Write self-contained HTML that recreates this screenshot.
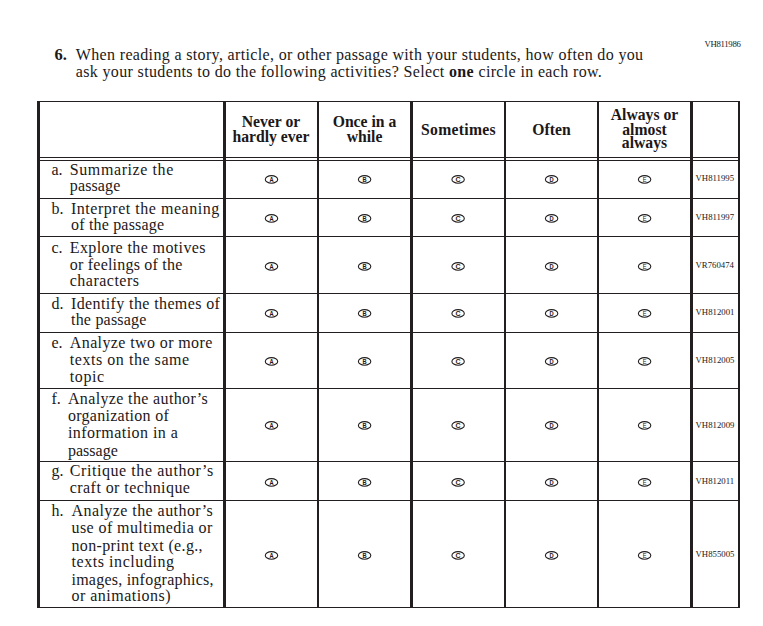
<!DOCTYPE html>
<html><head><meta charset="utf-8"><title>Question 6</title>
<style>
html,body{margin:0;padding:0;background:#fff;}
body{width:763px;height:626px;position:relative;overflow:hidden;}
</style></head><body>
<div style="position:absolute;top:46.58px;font-family:'Liberation Serif', serif;font-size:16.5px;line-height:16.5px;font-weight:400;color:#1c1819;white-space:pre;left:54.5px;"><b>6.</b></div>
<div style="position:absolute;top:47.00px;font-family:'Liberation Serif', serif;font-size:16px;line-height:16px;font-weight:400;color:#1c1819;white-space:pre;letter-spacing:0.343px;left:75.8px;">When reading a story, article, or other passage with your students, how often do you</div>
<div style="position:absolute;top:64.30px;font-family:'Liberation Serif', serif;font-size:16px;line-height:16px;font-weight:400;color:#1c1819;white-space:pre;letter-spacing:0.35px;left:75.8px;">ask your students to do the following activities? Select <b>one</b> circle in each row.</div>
<div style="position:absolute;top:40.17px;font-family:'Liberation Serif', serif;font-size:8.75px;line-height:8.75px;font-weight:400;color:#1c1819;white-space:pre;letter-spacing:-0.3px;left:704.4px;">VH811986</div>
<div style="position:absolute;left:37px;top:101px;width:703px;height:1px;background:#231f20"></div>
<div style="position:absolute;left:37px;top:157px;width:703px;height:1px;background:#231f20"></div>
<div style="position:absolute;left:37px;top:160px;width:703px;height:1px;background:#231f20"></div>
<div style="position:absolute;left:37px;top:198px;width:703px;height:1px;background:#231f20"></div>
<div style="position:absolute;left:37px;top:236px;width:703px;height:1px;background:#231f20"></div>
<div style="position:absolute;left:37px;top:293px;width:703px;height:1px;background:#231f20"></div>
<div style="position:absolute;left:37px;top:332px;width:703px;height:1px;background:#231f20"></div>
<div style="position:absolute;left:37px;top:388px;width:703px;height:1px;background:#231f20"></div>
<div style="position:absolute;left:37px;top:461px;width:703px;height:1px;background:#231f20"></div>
<div style="position:absolute;left:37px;top:500px;width:703px;height:1px;background:#231f20"></div>
<div style="position:absolute;left:37px;top:607px;width:703px;height:1px;background:#231f20"></div>
<div style="position:absolute;left:37px;top:101px;width:3px;height:507px;background:#231f20"></div>
<div style="position:absolute;left:223px;top:101px;width:3px;height:507px;background:#231f20"></div>
<div style="position:absolute;left:317px;top:101px;width:2px;height:507px;background:#231f20"></div>
<div style="position:absolute;left:410px;top:101px;width:3px;height:507px;background:#231f20"></div>
<div style="position:absolute;left:504px;top:101px;width:2px;height:507px;background:#231f20"></div>
<div style="position:absolute;left:597px;top:101px;width:2px;height:507px;background:#231f20"></div>
<div style="position:absolute;left:690px;top:101px;width:3px;height:507px;background:#231f20"></div>
<div style="position:absolute;left:738px;top:101px;width:2px;height:507px;background:#231f20"></div>
<div style="position:absolute;top:114.15px;font-family:'Liberation Serif', serif;font-size:15.7px;line-height:15.7px;font-weight:700;color:#1c1819;white-space:pre;left:225px;width:92px;text-align:center;">Never or</div>
<div style="position:absolute;top:129.05px;font-family:'Liberation Serif', serif;font-size:15.7px;line-height:15.7px;font-weight:700;color:#1c1819;white-space:pre;left:225px;width:92px;text-align:center;">hardly ever</div>
<div style="position:absolute;top:114.15px;font-family:'Liberation Serif', serif;font-size:15.7px;line-height:15.7px;font-weight:700;color:#1c1819;white-space:pre;left:319px;width:91px;text-align:center;">Once in a</div>
<div style="position:absolute;top:129.05px;font-family:'Liberation Serif', serif;font-size:15.7px;line-height:15.7px;font-weight:700;color:#1c1819;white-space:pre;left:319px;width:91px;text-align:center;">while</div>
<div style="position:absolute;top:122.05px;font-family:'Liberation Serif', serif;font-size:15.7px;line-height:15.7px;font-weight:700;color:#1c1819;white-space:pre;letter-spacing:0.3px;left:413px;width:91px;text-align:center;">Sometimes</div>
<div style="position:absolute;top:122.05px;font-family:'Liberation Serif', serif;font-size:15.7px;line-height:15.7px;font-weight:700;color:#1c1819;white-space:pre;left:506px;width:91px;text-align:center;">Often</div>
<div style="position:absolute;top:107.25px;font-family:'Liberation Serif', serif;font-size:15.7px;line-height:15.7px;font-weight:700;color:#1c1819;white-space:pre;left:599px;width:91px;text-align:center;">Always or</div>
<div style="position:absolute;top:121.65px;font-family:'Liberation Serif', serif;font-size:15.7px;line-height:15.7px;font-weight:700;color:#1c1819;white-space:pre;left:599px;width:91px;text-align:center;">almost</div>
<div style="position:absolute;top:134.95px;font-family:'Liberation Serif', serif;font-size:15.7px;line-height:15.7px;font-weight:700;color:#1c1819;white-space:pre;left:599px;width:91px;text-align:center;">always</div>
<div style="position:absolute;top:161.60px;font-family:'Liberation Serif', serif;font-size:16px;line-height:16px;font-weight:400;color:#1c1819;white-space:pre;left:51.4px;">a.</div>
<div style="position:absolute;top:161.60px;font-family:'Liberation Serif', serif;font-size:16px;line-height:16px;font-weight:400;color:#1c1819;white-space:pre;letter-spacing:0.588px;left:69.8px;">Summarize the</div>
<div style="position:absolute;top:178.30px;font-family:'Liberation Serif', serif;font-size:16px;line-height:16px;font-weight:400;color:#1c1819;white-space:pre;letter-spacing:0.123px;left:69.8px;">passage</div>
<div style="position:absolute;top:174.27px;font-family:'Liberation Serif', serif;font-size:8.75px;line-height:8.75px;font-weight:400;color:#1c1819;white-space:pre;left:695.5px;">VH811995</div>
<div style="position:absolute;top:200.70px;font-family:'Liberation Serif', serif;font-size:16px;line-height:16px;font-weight:400;color:#1c1819;white-space:pre;left:51.4px;">b.</div>
<div style="position:absolute;top:200.70px;font-family:'Liberation Serif', serif;font-size:16px;line-height:16px;font-weight:400;color:#1c1819;white-space:pre;letter-spacing:0.523px;left:71.0px;">Interpret the meaning</div>
<div style="position:absolute;top:217.20px;font-family:'Liberation Serif', serif;font-size:16px;line-height:16px;font-weight:400;color:#1c1819;white-space:pre;letter-spacing:0.187px;left:71.0px;">of the passage</div>
<div style="position:absolute;top:213.27px;font-family:'Liberation Serif', serif;font-size:8.75px;line-height:8.75px;font-weight:400;color:#1c1819;white-space:pre;left:695.5px;">VH811997</div>
<div style="position:absolute;top:239.90px;font-family:'Liberation Serif', serif;font-size:16px;line-height:16px;font-weight:400;color:#1c1819;white-space:pre;left:51.4px;">c.</div>
<div style="position:absolute;top:239.90px;font-family:'Liberation Serif', serif;font-size:16px;line-height:16px;font-weight:400;color:#1c1819;white-space:pre;letter-spacing:0.38px;left:69.8px;">Explore the motives</div>
<div style="position:absolute;top:256.90px;font-family:'Liberation Serif', serif;font-size:16px;line-height:16px;font-weight:400;color:#1c1819;white-space:pre;letter-spacing:0.215px;left:69.8px;">or feelings of the</div>
<div style="position:absolute;top:273.30px;font-family:'Liberation Serif', serif;font-size:16px;line-height:16px;font-weight:400;color:#1c1819;white-space:pre;letter-spacing:0.475px;left:69.8px;">characters</div>
<div style="position:absolute;top:261.27px;font-family:'Liberation Serif', serif;font-size:8.75px;line-height:8.75px;font-weight:400;color:#1c1819;white-space:pre;left:695.5px;">VR760474</div>
<div style="position:absolute;top:295.60px;font-family:'Liberation Serif', serif;font-size:16px;line-height:16px;font-weight:400;color:#1c1819;white-space:pre;left:51.4px;">d.</div>
<div style="position:absolute;top:295.60px;font-family:'Liberation Serif', serif;font-size:16px;line-height:16px;font-weight:400;color:#1c1819;white-space:pre;letter-spacing:0.383px;left:71.0px;">Identify the themes of</div>
<div style="position:absolute;top:312.10px;font-family:'Liberation Serif', serif;font-size:16px;line-height:16px;font-weight:400;color:#1c1819;white-space:pre;letter-spacing:0.211px;left:71.0px;">the passage</div>
<div style="position:absolute;top:308.27px;font-family:'Liberation Serif', serif;font-size:8.75px;line-height:8.75px;font-weight:400;color:#1c1819;white-space:pre;left:695.5px;">VH812001</div>
<div style="position:absolute;top:335.10px;font-family:'Liberation Serif', serif;font-size:16px;line-height:16px;font-weight:400;color:#1c1819;white-space:pre;left:51.4px;">e.</div>
<div style="position:absolute;top:335.10px;font-family:'Liberation Serif', serif;font-size:16px;line-height:16px;font-weight:400;color:#1c1819;white-space:pre;letter-spacing:0.389px;left:69.8px;">Analyze two or more</div>
<div style="position:absolute;top:352.10px;font-family:'Liberation Serif', serif;font-size:16px;line-height:16px;font-weight:400;color:#1c1819;white-space:pre;letter-spacing:0.542px;left:69.8px;">texts on the same</div>
<div style="position:absolute;top:368.50px;font-family:'Liberation Serif', serif;font-size:16px;line-height:16px;font-weight:400;color:#1c1819;white-space:pre;letter-spacing:0.6px;left:69.8px;">topic</div>
<div style="position:absolute;top:356.27px;font-family:'Liberation Serif', serif;font-size:8.75px;line-height:8.75px;font-weight:400;color:#1c1819;white-space:pre;left:695.5px;">VH812005</div>
<div style="position:absolute;top:390.90px;font-family:'Liberation Serif', serif;font-size:16px;line-height:16px;font-weight:400;color:#1c1819;white-space:pre;left:51.4px;">f.</div>
<div style="position:absolute;top:390.90px;font-family:'Liberation Serif', serif;font-size:16px;line-height:16px;font-weight:400;color:#1c1819;white-space:pre;letter-spacing:0.363px;left:67.9px;">Analyze the author’s</div>
<div style="position:absolute;top:407.80px;font-family:'Liberation Serif', serif;font-size:16px;line-height:16px;font-weight:400;color:#1c1819;white-space:pre;letter-spacing:0.276px;left:67.9px;">organization of</div>
<div style="position:absolute;top:424.80px;font-family:'Liberation Serif', serif;font-size:16px;line-height:16px;font-weight:400;color:#1c1819;white-space:pre;letter-spacing:0.458px;left:67.9px;">information in a</div>
<div style="position:absolute;top:442.50px;font-family:'Liberation Serif', serif;font-size:16px;line-height:16px;font-weight:400;color:#1c1819;white-space:pre;letter-spacing:0.04px;left:67.9px;">passage</div>
<div style="position:absolute;top:421.17px;font-family:'Liberation Serif', serif;font-size:8.75px;line-height:8.75px;font-weight:400;color:#1c1819;white-space:pre;left:695.5px;">VH812009</div>
<div style="position:absolute;top:463.40px;font-family:'Liberation Serif', serif;font-size:16px;line-height:16px;font-weight:400;color:#1c1819;white-space:pre;left:51.4px;">g.</div>
<div style="position:absolute;top:463.40px;font-family:'Liberation Serif', serif;font-size:16px;line-height:16px;font-weight:400;color:#1c1819;white-space:pre;letter-spacing:0.567px;left:69.8px;">Critique the author’s</div>
<div style="position:absolute;top:480.40px;font-family:'Liberation Serif', serif;font-size:16px;line-height:16px;font-weight:400;color:#1c1819;white-space:pre;letter-spacing:0.431px;left:69.8px;">craft or technique</div>
<div style="position:absolute;top:477.27px;font-family:'Liberation Serif', serif;font-size:8.75px;line-height:8.75px;font-weight:400;color:#1c1819;white-space:pre;left:695.5px;">VH812011</div>
<div style="position:absolute;top:502.70px;font-family:'Liberation Serif', serif;font-size:16px;line-height:16px;font-weight:400;color:#1c1819;white-space:pre;left:51.4px;">h.</div>
<div style="position:absolute;top:502.70px;font-family:'Liberation Serif', serif;font-size:16px;line-height:16px;font-weight:400;color:#1c1819;white-space:pre;letter-spacing:0.437px;left:71.5px;">Analyze the author’s</div>
<div style="position:absolute;top:519.60px;font-family:'Liberation Serif', serif;font-size:16px;line-height:16px;font-weight:400;color:#1c1819;white-space:pre;letter-spacing:0.419px;left:71.5px;">use of multimedia or</div>
<div style="position:absolute;top:537.80px;font-family:'Liberation Serif', serif;font-size:16px;line-height:16px;font-weight:400;color:#1c1819;white-space:pre;letter-spacing:0.356px;left:71.5px;">non-print text (e.g.,</div>
<div style="position:absolute;top:554.30px;font-family:'Liberation Serif', serif;font-size:16px;line-height:16px;font-weight:400;color:#1c1819;white-space:pre;letter-spacing:0.562px;left:71.5px;">texts including</div>
<div style="position:absolute;top:571.50px;font-family:'Liberation Serif', serif;font-size:16px;line-height:16px;font-weight:400;color:#1c1819;white-space:pre;letter-spacing:0.232px;left:71.5px;">images, infographics,</div>
<div style="position:absolute;top:588.00px;font-family:'Liberation Serif', serif;font-size:16px;line-height:16px;font-weight:400;color:#1c1819;white-space:pre;letter-spacing:0.481px;left:71.5px;">or animations)</div>
<div style="position:absolute;top:550.27px;font-family:'Liberation Serif', serif;font-size:8.75px;line-height:8.75px;font-weight:400;color:#1c1819;white-space:pre;left:695.5px;">VH855005</div>
<svg style="position:absolute;left:0;top:0" width="763" height="626"><ellipse cx="271.5" cy="179.4" rx="6.2" ry="3.8" fill="none" stroke="#231f20" stroke-width="1.1"/><text transform="translate(271.5 182.0) scale(0.78 1)" font-family="'Liberation Sans', sans-serif" font-size="7.4" font-weight="700" text-anchor="middle" fill="#1c1819">A</text><ellipse cx="364.6" cy="179.4" rx="6.2" ry="3.8" fill="none" stroke="#231f20" stroke-width="1.1"/><text transform="translate(364.6 182.0) scale(0.78 1)" font-family="'Liberation Sans', sans-serif" font-size="7.4" font-weight="700" text-anchor="middle" fill="#1c1819">B</text><ellipse cx="458.1" cy="179.4" rx="6.2" ry="3.8" fill="none" stroke="#231f20" stroke-width="1.1"/><text transform="translate(458.1 182.0) scale(0.95 1)" font-family="'Liberation Sans', sans-serif" font-size="7.4" font-weight="700" text-anchor="middle" fill="#1c1819">C</text><ellipse cx="551.6" cy="179.4" rx="6.2" ry="3.8" fill="none" stroke="#231f20" stroke-width="1.1"/><text transform="translate(551.6 182.0) scale(0.78 1)" font-family="'Liberation Sans', sans-serif" font-size="7.4" font-weight="700" text-anchor="middle" fill="#1c1819">D</text><ellipse cx="644.6" cy="179.4" rx="6.2" ry="3.8" fill="none" stroke="#231f20" stroke-width="1.1"/><text transform="translate(644.6 182.0) scale(0.78 1)" font-family="'Liberation Sans', sans-serif" font-size="7.4" font-weight="400" text-anchor="middle" fill="#1c1819">E</text><ellipse cx="271.5" cy="218.4" rx="6.2" ry="3.8" fill="none" stroke="#231f20" stroke-width="1.1"/><text transform="translate(271.5 221.0) scale(0.78 1)" font-family="'Liberation Sans', sans-serif" font-size="7.4" font-weight="700" text-anchor="middle" fill="#1c1819">A</text><ellipse cx="364.6" cy="218.4" rx="6.2" ry="3.8" fill="none" stroke="#231f20" stroke-width="1.1"/><text transform="translate(364.6 221.0) scale(0.78 1)" font-family="'Liberation Sans', sans-serif" font-size="7.4" font-weight="700" text-anchor="middle" fill="#1c1819">B</text><ellipse cx="458.1" cy="218.4" rx="6.2" ry="3.8" fill="none" stroke="#231f20" stroke-width="1.1"/><text transform="translate(458.1 221.0) scale(0.95 1)" font-family="'Liberation Sans', sans-serif" font-size="7.4" font-weight="700" text-anchor="middle" fill="#1c1819">C</text><ellipse cx="551.6" cy="218.4" rx="6.2" ry="3.8" fill="none" stroke="#231f20" stroke-width="1.1"/><text transform="translate(551.6 221.0) scale(0.78 1)" font-family="'Liberation Sans', sans-serif" font-size="7.4" font-weight="700" text-anchor="middle" fill="#1c1819">D</text><ellipse cx="644.6" cy="218.4" rx="6.2" ry="3.8" fill="none" stroke="#231f20" stroke-width="1.1"/><text transform="translate(644.6 221.0) scale(0.78 1)" font-family="'Liberation Sans', sans-serif" font-size="7.4" font-weight="400" text-anchor="middle" fill="#1c1819">E</text><ellipse cx="271.5" cy="266.4" rx="6.2" ry="3.8" fill="none" stroke="#231f20" stroke-width="1.1"/><text transform="translate(271.5 269.0) scale(0.78 1)" font-family="'Liberation Sans', sans-serif" font-size="7.4" font-weight="700" text-anchor="middle" fill="#1c1819">A</text><ellipse cx="364.6" cy="266.4" rx="6.2" ry="3.8" fill="none" stroke="#231f20" stroke-width="1.1"/><text transform="translate(364.6 269.0) scale(0.78 1)" font-family="'Liberation Sans', sans-serif" font-size="7.4" font-weight="700" text-anchor="middle" fill="#1c1819">B</text><ellipse cx="458.1" cy="266.4" rx="6.2" ry="3.8" fill="none" stroke="#231f20" stroke-width="1.1"/><text transform="translate(458.1 269.0) scale(0.95 1)" font-family="'Liberation Sans', sans-serif" font-size="7.4" font-weight="700" text-anchor="middle" fill="#1c1819">C</text><ellipse cx="551.6" cy="266.4" rx="6.2" ry="3.8" fill="none" stroke="#231f20" stroke-width="1.1"/><text transform="translate(551.6 269.0) scale(0.78 1)" font-family="'Liberation Sans', sans-serif" font-size="7.4" font-weight="700" text-anchor="middle" fill="#1c1819">D</text><ellipse cx="644.6" cy="266.4" rx="6.2" ry="3.8" fill="none" stroke="#231f20" stroke-width="1.1"/><text transform="translate(644.6 269.0) scale(0.78 1)" font-family="'Liberation Sans', sans-serif" font-size="7.4" font-weight="400" text-anchor="middle" fill="#1c1819">E</text><ellipse cx="271.5" cy="313.4" rx="6.2" ry="3.8" fill="none" stroke="#231f20" stroke-width="1.1"/><text transform="translate(271.5 316.0) scale(0.78 1)" font-family="'Liberation Sans', sans-serif" font-size="7.4" font-weight="700" text-anchor="middle" fill="#1c1819">A</text><ellipse cx="364.6" cy="313.4" rx="6.2" ry="3.8" fill="none" stroke="#231f20" stroke-width="1.1"/><text transform="translate(364.6 316.0) scale(0.78 1)" font-family="'Liberation Sans', sans-serif" font-size="7.4" font-weight="700" text-anchor="middle" fill="#1c1819">B</text><ellipse cx="458.1" cy="313.4" rx="6.2" ry="3.8" fill="none" stroke="#231f20" stroke-width="1.1"/><text transform="translate(458.1 316.0) scale(0.95 1)" font-family="'Liberation Sans', sans-serif" font-size="7.4" font-weight="700" text-anchor="middle" fill="#1c1819">C</text><ellipse cx="551.6" cy="313.4" rx="6.2" ry="3.8" fill="none" stroke="#231f20" stroke-width="1.1"/><text transform="translate(551.6 316.0) scale(0.78 1)" font-family="'Liberation Sans', sans-serif" font-size="7.4" font-weight="700" text-anchor="middle" fill="#1c1819">D</text><ellipse cx="644.6" cy="313.4" rx="6.2" ry="3.8" fill="none" stroke="#231f20" stroke-width="1.1"/><text transform="translate(644.6 316.0) scale(0.78 1)" font-family="'Liberation Sans', sans-serif" font-size="7.4" font-weight="400" text-anchor="middle" fill="#1c1819">E</text><ellipse cx="271.5" cy="361.4" rx="6.2" ry="3.8" fill="none" stroke="#231f20" stroke-width="1.1"/><text transform="translate(271.5 364.0) scale(0.78 1)" font-family="'Liberation Sans', sans-serif" font-size="7.4" font-weight="700" text-anchor="middle" fill="#1c1819">A</text><ellipse cx="364.6" cy="361.4" rx="6.2" ry="3.8" fill="none" stroke="#231f20" stroke-width="1.1"/><text transform="translate(364.6 364.0) scale(0.78 1)" font-family="'Liberation Sans', sans-serif" font-size="7.4" font-weight="700" text-anchor="middle" fill="#1c1819">B</text><ellipse cx="458.1" cy="361.4" rx="6.2" ry="3.8" fill="none" stroke="#231f20" stroke-width="1.1"/><text transform="translate(458.1 364.0) scale(0.95 1)" font-family="'Liberation Sans', sans-serif" font-size="7.4" font-weight="700" text-anchor="middle" fill="#1c1819">C</text><ellipse cx="551.6" cy="361.4" rx="6.2" ry="3.8" fill="none" stroke="#231f20" stroke-width="1.1"/><text transform="translate(551.6 364.0) scale(0.78 1)" font-family="'Liberation Sans', sans-serif" font-size="7.4" font-weight="700" text-anchor="middle" fill="#1c1819">D</text><ellipse cx="644.6" cy="361.4" rx="6.2" ry="3.8" fill="none" stroke="#231f20" stroke-width="1.1"/><text transform="translate(644.6 364.0) scale(0.78 1)" font-family="'Liberation Sans', sans-serif" font-size="7.4" font-weight="400" text-anchor="middle" fill="#1c1819">E</text><ellipse cx="271.5" cy="425.4" rx="6.2" ry="3.8" fill="none" stroke="#231f20" stroke-width="1.1"/><text transform="translate(271.5 428.0) scale(0.78 1)" font-family="'Liberation Sans', sans-serif" font-size="7.4" font-weight="700" text-anchor="middle" fill="#1c1819">A</text><ellipse cx="364.6" cy="425.4" rx="6.2" ry="3.8" fill="none" stroke="#231f20" stroke-width="1.1"/><text transform="translate(364.6 428.0) scale(0.78 1)" font-family="'Liberation Sans', sans-serif" font-size="7.4" font-weight="700" text-anchor="middle" fill="#1c1819">B</text><ellipse cx="458.1" cy="425.4" rx="6.2" ry="3.8" fill="none" stroke="#231f20" stroke-width="1.1"/><text transform="translate(458.1 428.0) scale(0.95 1)" font-family="'Liberation Sans', sans-serif" font-size="7.4" font-weight="700" text-anchor="middle" fill="#1c1819">C</text><ellipse cx="551.6" cy="425.4" rx="6.2" ry="3.8" fill="none" stroke="#231f20" stroke-width="1.1"/><text transform="translate(551.6 428.0) scale(0.78 1)" font-family="'Liberation Sans', sans-serif" font-size="7.4" font-weight="700" text-anchor="middle" fill="#1c1819">D</text><ellipse cx="644.6" cy="425.4" rx="6.2" ry="3.8" fill="none" stroke="#231f20" stroke-width="1.1"/><text transform="translate(644.6 428.0) scale(0.78 1)" font-family="'Liberation Sans', sans-serif" font-size="7.4" font-weight="400" text-anchor="middle" fill="#1c1819">E</text><ellipse cx="271.5" cy="482.4" rx="6.2" ry="3.8" fill="none" stroke="#231f20" stroke-width="1.1"/><text transform="translate(271.5 485.0) scale(0.78 1)" font-family="'Liberation Sans', sans-serif" font-size="7.4" font-weight="700" text-anchor="middle" fill="#1c1819">A</text><ellipse cx="364.6" cy="482.4" rx="6.2" ry="3.8" fill="none" stroke="#231f20" stroke-width="1.1"/><text transform="translate(364.6 485.0) scale(0.78 1)" font-family="'Liberation Sans', sans-serif" font-size="7.4" font-weight="700" text-anchor="middle" fill="#1c1819">B</text><ellipse cx="458.1" cy="482.4" rx="6.2" ry="3.8" fill="none" stroke="#231f20" stroke-width="1.1"/><text transform="translate(458.1 485.0) scale(0.95 1)" font-family="'Liberation Sans', sans-serif" font-size="7.4" font-weight="700" text-anchor="middle" fill="#1c1819">C</text><ellipse cx="551.6" cy="482.4" rx="6.2" ry="3.8" fill="none" stroke="#231f20" stroke-width="1.1"/><text transform="translate(551.6 485.0) scale(0.78 1)" font-family="'Liberation Sans', sans-serif" font-size="7.4" font-weight="700" text-anchor="middle" fill="#1c1819">D</text><ellipse cx="644.6" cy="482.4" rx="6.2" ry="3.8" fill="none" stroke="#231f20" stroke-width="1.1"/><text transform="translate(644.6 485.0) scale(0.78 1)" font-family="'Liberation Sans', sans-serif" font-size="7.4" font-weight="400" text-anchor="middle" fill="#1c1819">E</text><ellipse cx="271.5" cy="555.4" rx="6.2" ry="3.8" fill="none" stroke="#231f20" stroke-width="1.1"/><text transform="translate(271.5 558.0) scale(0.78 1)" font-family="'Liberation Sans', sans-serif" font-size="7.4" font-weight="700" text-anchor="middle" fill="#1c1819">A</text><ellipse cx="364.6" cy="555.4" rx="6.2" ry="3.8" fill="none" stroke="#231f20" stroke-width="1.1"/><text transform="translate(364.6 558.0) scale(0.78 1)" font-family="'Liberation Sans', sans-serif" font-size="7.4" font-weight="700" text-anchor="middle" fill="#1c1819">B</text><ellipse cx="458.1" cy="555.4" rx="6.2" ry="3.8" fill="none" stroke="#231f20" stroke-width="1.1"/><text transform="translate(458.1 558.0) scale(0.95 1)" font-family="'Liberation Sans', sans-serif" font-size="7.4" font-weight="700" text-anchor="middle" fill="#1c1819">C</text><ellipse cx="551.6" cy="555.4" rx="6.2" ry="3.8" fill="none" stroke="#231f20" stroke-width="1.1"/><text transform="translate(551.6 558.0) scale(0.78 1)" font-family="'Liberation Sans', sans-serif" font-size="7.4" font-weight="700" text-anchor="middle" fill="#1c1819">D</text><ellipse cx="644.6" cy="555.4" rx="6.2" ry="3.8" fill="none" stroke="#231f20" stroke-width="1.1"/><text transform="translate(644.6 558.0) scale(0.78 1)" font-family="'Liberation Sans', sans-serif" font-size="7.4" font-weight="400" text-anchor="middle" fill="#1c1819">E</text></svg>
</body></html>
